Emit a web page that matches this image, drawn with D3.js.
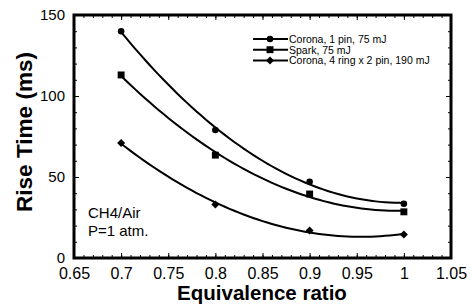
<!DOCTYPE html>
<html>
  <head>
    <meta charset="utf-8">
    <title>Rise time vs equivalence ratio</title>
    <script src="https://cdn.jsdelivr.net/npm/d3@7"></script>
    <style>
      body { margin: 0; background: #fff; }
      text { font-family: "Liberation Sans", Arial, sans-serif; fill: #000; }
      .title { font-weight: bold; }
      .legend text { font-size: 10.5px; }
      .note { font-size: 15px; }
    </style>
  </head>
  <body>
    <svg id="chart" width="471" height="306"></svg>

    <script>
      // data
      ratios = [0.7, 0.8, 0.9, 1.0];
      seriesNames = ["Corona, 1 pin, 75 mJ", "Spark, 75 mJ", "Corona, 4 ring x 2 pin, 190 mJ"];
      seriesShapes = ["circle", "square", "diamond"];
      coronaPin = [140, 79, 47, 33.5];
      spark = [113, 63.5, 39.5, 28.5];
      coronaRing = [71, 33, 17, 14.5];
      seriesValues = [coronaPin, spark, coronaRing];
      xTicks = [0.65, 0.7, 0.75, 0.8, 0.85, 0.9, 0.95, 1, 1.05];
      yTicks = [0, 50, 100, 150];

      margin = { top: 15, right: 20, bottom: 48, left: 74 };
      width = 471;
      height = 306;

      chart = d3.select("#chart");

      x = d3.scaleLinear()
        .domain([0.65, 1.05])
        .range([margin.left, width - margin.right]);
      y = d3.scaleLinear()
        .domain([0, 150])
        .range([height - margin.bottom, margin.top]);

      // minor ticks (inside the frame, all four sides)
      xMinor = d3.range(0.65, 1.0501, 0.01);
      yMinor = d3.range(0, 150.01, 10);

      function addAxis(axis, transform, noText) {
        let g = chart.append("g")
          .attr("transform", transform)
          .call(axis);
        g.select(".domain").remove();
        g.selectAll("line").attr("stroke", "#000").attr("stroke-width", 1);
        if (noText) g.selectAll("text").remove();
        return g;
      }

      // bottom
      addAxis(d3.axisBottom(x).tickValues(xMinor).tickSize(-3).tickFormat(""), "translate(0," + y(0) + ")", true);
      addAxis(d3.axisBottom(x).tickValues(xTicks).tickSize(-5).tickPadding(10).tickFormat(d => +d.toFixed(2)), "translate(0," + y(0) + ")")
        .attr("font-size", 16).attr("font-family", null);
      // top
      addAxis(d3.axisTop(x).tickValues(xMinor).tickSize(-3).tickFormat(""), "translate(0," + y(150) + ")", true);
      addAxis(d3.axisTop(x).tickValues(xTicks).tickSize(-5).tickFormat(""), "translate(0," + y(150) + ")", true);
      // left
      addAxis(d3.axisLeft(y).tickValues(yMinor).tickSize(-3).tickFormat(""), "translate(" + x(0.65) + ",0)", true);
      addAxis(d3.axisLeft(y).tickValues(yTicks).tickSize(-5).tickPadding(9), "translate(" + x(0.65) + ",0)")
        .attr("font-size", 15).attr("font-family", null);
      // right
      addAxis(d3.axisRight(y).tickValues(yMinor).tickSize(-3).tickFormat(""), "translate(" + x(1.05) + ",0)", true);
      addAxis(d3.axisRight(y).tickValues(yTicks).tickSize(-5).tickFormat(""), "translate(" + x(1.05) + ",0)", true);

      // frame
      chart.append("rect")
        .attr("x", x(0.65))
        .attr("y", y(150))
        .attr("width", x(1.05) - x(0.65))
        .attr("height", y(0) - y(150))
        .attr("fill", "none")
        .attr("stroke", "#000")
        .attr("stroke-width", 3);

      // quadratic least-squares fit for the trend curves
      function quadFit(xs, ys) {
        let s = [0, 0, 0, 0, 0], t = [0, 0, 0];
        xs.forEach((xv, i) => {
          for (let k = 0; k < 5; k++) s[k] += Math.pow(xv, k);
          for (let k = 0; k < 3; k++) t[k] += Math.pow(xv, k) * ys[i];
        });
        let A = [[s[0], s[1], s[2], t[0]], [s[1], s[2], s[3], t[1]], [s[2], s[3], s[4], t[2]]];
        for (let i = 0; i < 3; i++) {
          for (let j = i + 1; j < 3; j++) {
            let f = A[j][i] / A[i][i];
            for (let k = i; k < 4; k++) A[j][k] -= f * A[i][k];
          }
        }
        let c = [0, 0, 0];
        for (let i = 2; i >= 0; i--) {
          let v = A[i][3];
          for (let k = i + 1; k < 3; k++) v -= A[i][k] * c[k];
          c[i] = v / A[i][i];
        }
        return xv => c[0] + c[1] * xv + c[2] * xv * xv;
      }

      line = d3.line()
        .x(d => x(d[0]))
        .y(d => y(d[1]));

      symbols = {
        circle: d3.symbol().type(d3.symbolCircle).size(34),
        square: d3.symbol().type(d3.symbolSquare).size(48),
        diamond: d3.symbol().type(d3.symbolSquare).size(32)
      };
      rotation = { circle: 0, square: 0, diamond: 45 };

      seriesValues.forEach((vals, i) => {
        let shape = seriesShapes[i];
        let fit = quadFit(ratios, vals);
        let pts = d3.range(0.7, 1.0001, 0.005).map(r => [r, fit(r)]);
        chart.append("path")
          .attr("d", line(pts))
          .attr("fill", "none")
          .attr("stroke", "#000")
          .attr("stroke-width", 2);
        chart.selectAll(".pt" + i)
          .data(ratios)
          .enter().append("path")
            .attr("d", symbols[shape])
            .attr("transform", (d, j) => "translate(" + x(d) + "," + y(vals[j]) + ") rotate(" + rotation[shape] + ")")
            .attr("fill", "#000");
      });

      // legend
      legend = chart.append("g").classed("legend", true);
      seriesNames.forEach((name, i) => {
        let shape = seriesShapes[i];
        let ly = 39 + i * 10.7;
        legend.append("line")
          .attr("x1", 253).attr("x2", 288)
          .attr("y1", ly).attr("y2", ly)
          .attr("stroke", "#000").attr("stroke-width", 2);
        legend.append("path")
          .attr("d", symbols[shape])
          .attr("transform", "translate(270," + ly + ") rotate(" + rotation[shape] + ")");
        legend.append("text")
          .attr("x", 289)
          .attr("y", ly + 4)
          .text(name);
      });

      // notes
      chart.append("text").classed("note", true)
        .attr("x", 88).attr("y", 218).text("CH4/Air");
      chart.append("text").classed("note", true)
        .attr("x", 88).attr("y", 236).text("P=1 atm.");

      // axis titles
      chart.append("text").classed("title", true)
        .attr("x", 262)
        .attr("y", 300)
        .attr("font-size", 20.5)
        .attr("text-anchor", "middle")
        .text("Equivalence ratio");
      chart.append("text").classed("title", true)
        .attr("transform", "translate(32,132) rotate(-90)")
        .attr("font-size", 22)
        .attr("text-anchor", "middle")
        .attr("textLength", 160)
        .attr("lengthAdjust", "spacingAndGlyphs")
        .text("Rise Time (ms)");
    </script>
  </body>
</html>
